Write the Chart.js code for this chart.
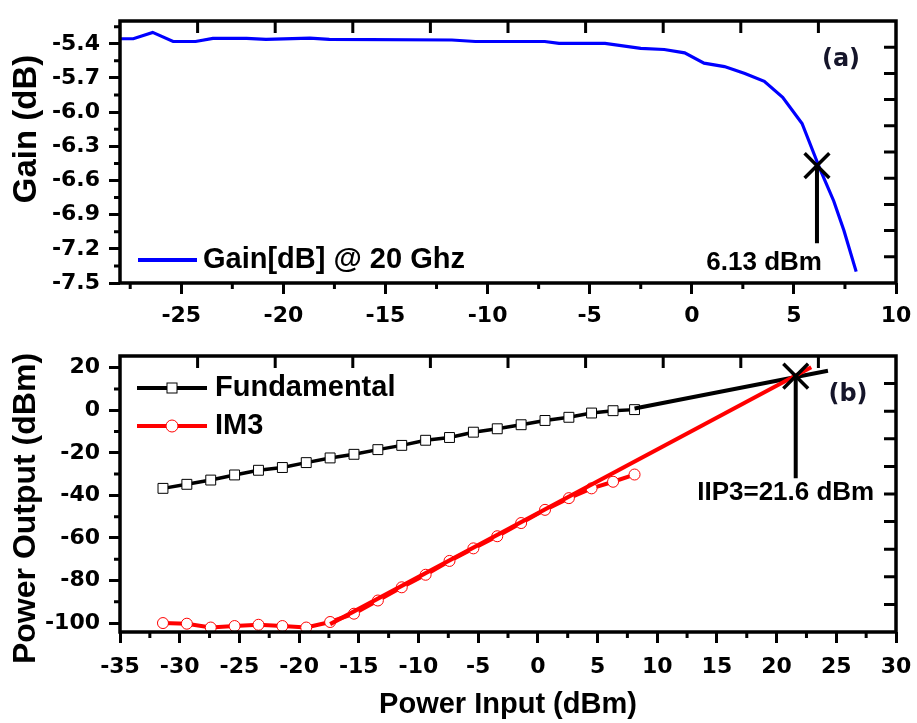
<!DOCTYPE html>
<html>
<head>
<meta charset="utf-8">
<script src="https://cdn.jsdelivr.net/npm/chart.js@4.4.1/dist/chart.umd.min.js"></script>
<style>
  html, body { margin: 0; padding: 0; background: #fff; }
  #wrap { position: relative; width: 917px; height: 723px; }
  #gain { position: absolute; left: 0; top: 0; }
  #pow { position: absolute; left: 0; top: 335px; }
</style>
</head>
<body>
<div id="wrap">
  <canvas id="gain" width="917" height="335"></canvas>
  <canvas id="pow" width="917" height="388"></canvas>
</div>
<script>
// ---------- Panel (a): gain at 20 GHz against input power ----------
const gainLabel = 'Gain[dB] @ 20 Ghz';
const gainInput = [-28, -27.35, -26.4, -25.4, -24.3, -23.45, -21.8, -20.85, -18.7, -17.75,
                   -11.75, -10.6, -7.2, -6.5, -4.25, -2.5, -1.35, -0.35, 0.6, 1.6,
                   2.6, 3.55, 4.45, 5.4, 6.3, 6.95, 7.45, 8.05];
const gainDb = [-5.356, -5.356, -5.30, -5.38, -5.38, -5.353, -5.353, -5.362, -5.351, -5.362,
                -5.367, -5.38, -5.38, -5.397, -5.397, -5.44, -5.45, -5.48, -5.57, -5.60,
                -5.66, -5.73, -5.87, -6.10, -6.51, -6.78, -7.04, -7.40];
const gainXTicks = [-25, -20, -15, -10, -5, 0, 5, 10];
const gainYTicks = [-7.5, -7.2, -6.9, -6.6, -6.3, -6.0, -5.7, -5.4];
const p1dBInput = 6.13;            // 1 dB compression input power
const p1dBGain = -6.47;
const p1dBLineEnd = -7.15;
const p1dBText = '6.13 dBm';

// ---------- Panel (b): fundamental and IM3 output power ----------
const powInput = [-31.4, -29.4, -27.4, -25.4, -23.4, -21.4, -19.4, -17.4, -15.4, -13.4,
                  -11.4, -9.4, -7.4, -5.4, -3.4, -1.4, 0.6, 2.6, 4.5, 6.3, 8.1];
const fundamentalOut = [-36.7, -34.8, -32.8, -30.4, -28.2, -26.9, -24.6, -22.4, -20.7, -18.5,
                        -16.5, -14.1, -12.8, -10.3, -8.7, -6.8, -4.8, -3.3, -1.3, -0.2, 0.3];
const im3Out = [-100.0, -100.3, -102.1, -101.4, -100.8, -101.4, -102.1, -99.5, -95.6, -89.4,
                -83.2, -77.3, -70.8, -64.9, -59.2, -53.0, -46.8, -41.3, -36.7, -33.6, -30.2];
const fundExtInput = [8.1, 24.3];   // extrapolated fundamental
const fundExtOut = [0.8, 18.6];
const im3FitInput = [-17.4, 22.9];  // extrapolated IM3 (3:1 slope)
const im3FitOut = [-100.5, 20.2];
const iip3Input = 21.6;
const iip3Out = 16.0;
const iip3LineEnd = -32.0;
const iip3Text = 'IIP3=21.6 dBm';
const powXTicks = [-35, -30, -25, -20, -15, -10, -5, 0, 5, 10, 15, 20, 25, 30];
const powYTicks = [-100, -80, -60, -40, -20, 0, 20];

// ---------- shared helpers ----------
const TICK_FONT = { family: "'DejaVu Sans'", size: 22, weight: 'bold' };
const BOLD = "'Liberation Sans', Arial, sans-serif";

const pts = (xs, ys) => xs.map((x, i) => ({ x, y: ys[i] }));

function minorValues(major, scale) {
  const step = major[1] - major[0];
  const out = [];
  for (let i = -1; i < major.length; i++) {
    const v = major[0] + (i + 0.5) * step;
    if (v > scale.min && v < scale.max) out.push(v);
  }
  return out;
}

function axis(min, max, ticks, fmt, isX, size, pad, title) {
  return {
    type: 'linear', min, max,
    position: isX ? 'bottom' : 'left',
    afterBuildTicks: s => { s.ticks = ticks.map(v => ({ value: v })); },
    afterFit: s => {
      if (isX) { s.height = size; s.paddingLeft = 0; s.paddingRight = 0; }
      else { s.width = size; s.paddingTop = 0; s.paddingBottom = 0; }
    },
    ticks: { font: TICK_FONT, color: '#000', padding: pad, maxRotation: 0, minRotation: 0,
             autoSkip: false, callback: v => fmt(v) },
    grid: { drawOnChartArea: false, drawTicks: true, tickLength: 11, tickWidth: 3, tickColor: '#000' },
    border: { display: false },
    title: title ? { display: true, text: title, color: '#000',
                     font: { family: BOLD, size: 29, weight: 'bold' },
                     padding: { top: 0, bottom: 1 } } : { display: false }
  };
}

// frame, mirrored inner ticks, minor ticks, legend and text annotations
function decor(o) {
  return {
    id: 'decor',
    afterDraw(chart) {
      const { ctx, chartArea: a, scales } = chart;
      const sx = scales.x, sy = scales.y;
      ctx.save();
      ctx.strokeStyle = '#000';
      ctx.lineCap = 'butt';
      ctx.lineWidth = 3;
      ctx.beginPath();
      for (let k = 1; k < 10; k++) {
        const x = a.left + (a.right - a.left) * k / 10;
        ctx.moveTo(x, a.top); ctx.lineTo(x, a.top + 12);
        const y = a.top + (a.bottom - a.top) * k / 10;
        ctx.moveTo(a.right, y); ctx.lineTo(a.right - 12, y);
      }
      minorValues(o.xTicks, sx).forEach(v => {
        const x = sx.getPixelForValue(v); ctx.moveTo(x, a.bottom); ctx.lineTo(x, a.bottom + 6);
      });
      minorValues(o.yTicks, sy).forEach(v => {
        const y = sy.getPixelForValue(v); ctx.moveTo(a.left, y); ctx.lineTo(a.left - 6, y);
      });
      ctx.stroke();
      ctx.lineWidth = 3.5;
      ctx.strokeRect(a.left, a.top, a.right - a.left, a.bottom - a.top);

      // legend rows
      ctx.textAlign = 'left';
      ctx.textBaseline = 'middle';
      ctx.font = `bold 29px ${BOLD}`;
      o.legend.forEach(row => {
        const ds = chart.data.datasets[row.index];
        const y = row.fromTop ? a.top + row.dy : a.bottom + row.dy;
        const x0 = a.left + row.x0, x1 = a.left + row.x1, xm = (x0 + x1) / 2;
        ctx.strokeStyle = ds.borderColor;
        ctx.lineWidth = 4;
        ctx.beginPath(); ctx.moveTo(x0, y); ctx.lineTo(x1, y); ctx.stroke();
        if (ds.pointStyle === 'rect') {
          ctx.fillStyle = '#fff'; ctx.lineWidth = 1; ctx.strokeStyle = ds.pointBorderColor;
          ctx.fillRect(xm - 5, y - 5, 10, 10); ctx.strokeRect(xm - 5, y - 5, 10, 10);
        } else if (ds.pointStyle === 'circle') {
          ctx.fillStyle = '#fff'; ctx.lineWidth = 1; ctx.strokeStyle = ds.pointBorderColor;
          ctx.beginPath(); ctx.arc(xm, y, 6, 0, Math.PI * 2); ctx.fill(); ctx.stroke();
        }
        ctx.fillStyle = '#000';
        ctx.fillText(ds.label, a.left + row.tx, y);
      });

      // panel tag
      ctx.font = "bold 24px 'DejaVu Sans'";
      ctx.fillStyle = '#15152a';
      ctx.textAlign = 'center';
      ctx.fillText(o.tag, a.right + o.tagDx, a.top + 39);

      // value note under the marker line
      ctx.font = `bold 26px ${BOLD}`;
      ctx.fillStyle = '#000';
      ctx.textBaseline = 'alphabetic';
      ctx.textAlign = o.note.align;
      ctx.fillText(o.note.text, sx.getPixelForValue(o.note.x) + o.note.dx,
                   sy.getPixelForValue(o.note.y) + o.note.dy);

      // rotated y title
      ctx.font = `bold ${o.yTitleSize}px ${BOLD}`;
      ctx.textAlign = 'center';
      ctx.textBaseline = 'middle';
      ctx.translate(o.yTitleX, (a.top + a.bottom) / 2 + o.yTitleDy);
      ctx.rotate(-Math.PI / 2);
      ctx.fillText(o.yTitle, 0, 0);
      ctx.restore();
    }
  };
}

const common = {
  responsive: false,
  animation: false,
  events: [],
  plugins: { legend: { display: false }, tooltip: { enabled: false } }
};

// ---------- chart (a) ----------
new Chart(document.getElementById('gain'), {
  type: 'scatter',
  data: {
    datasets: [
      { label: 'P1dB', data: [{ x: p1dBInput, y: p1dBGain }], pointStyle: 'crossRot',
        pointRadius: 17.5, pointBorderWidth: 3.5, pointBorderColor: '#000', borderColor: '#000' },
      { label: 'P1dB line', data: pts([p1dBInput, p1dBInput], [p1dBGain, p1dBLineEnd]),
        showLine: true, borderColor: '#000', borderWidth: 4, pointRadius: 0 },
      { label: gainLabel, data: pts(gainInput, gainDb), showLine: true,
        borderColor: '#0000ff', borderWidth: 3.2, pointRadius: 0, tension: 0 }
    ]
  },
  options: {
    ...common,
    layout: { padding: { left: 0, right: 18, top: 4, bottom: 0 } },
    scales: {
      x: axis(-28, 10, gainXTicks, v => String(v), true, 52, 9),
      y: axis(-7.5, -5.2, gainYTicks, v => v.toFixed(1), false, 120, 9)
    }
  },
  plugins: [decor({
    xTicks: gainXTicks, yTicks: gainYTicks,
    legend: [{ index: 2, fromTop: false, dy: -23, x0: 18, x1: 77, tx: 83 }],
    tag: '(a)', tagDx: -55,
    note: { text: p1dBText, x: p1dBInput, y: p1dBLineEnd, dx: 5, dy: 27, align: 'right' },
    yTitle: 'Gain (dB)', yTitleSize: 33, yTitleX: 27, yTitleDy: -23
  })]
});

// ---------- chart (b) ----------
new Chart(document.getElementById('pow'), {
  type: 'scatter',
  data: {
    datasets: [
      { label: 'IIP3', data: [{ x: iip3Input, y: iip3Out }], pointStyle: 'crossRot',
        pointRadius: 17.5, pointBorderWidth: 3.5, pointBorderColor: '#000', borderColor: '#000' },
      { label: 'IIP3 line', data: pts([iip3Input, iip3Input], [iip3Out, iip3LineEnd]),
        showLine: true, borderColor: '#000', borderWidth: 4, pointRadius: 0 },
      { label: 'IM3 fit', data: pts(im3FitInput, im3FitOut), showLine: true,
        borderColor: '#ff0000', borderWidth: 4, pointRadius: 0 },
      { label: 'Fundamental fit', data: pts(fundExtInput, fundExtOut), showLine: true,
        borderColor: '#000', borderWidth: 4, pointRadius: 0 },
      { label: 'Fundamental', data: pts(powInput, fundamentalOut), showLine: true,
        borderColor: '#000', borderWidth: 3.5, pointStyle: 'rect', pointRadius: 7,
        pointBorderWidth: 1, pointBorderColor: '#000', pointBackgroundColor: '#fff' },
      { label: 'IM3', data: pts(powInput, im3Out), showLine: true,
        borderColor: '#ff0000', borderWidth: 4, pointStyle: 'circle', pointRadius: 5.5,
        pointBorderWidth: 1, pointBorderColor: '#ff0000', pointBackgroundColor: '#fff' }
    ]
  },
  options: {
    ...common,
    layout: { padding: { left: 0, right: 18, top: 18, bottom: 0 } },
    scales: {
      x: axis(-35, 30, powXTicks, v => String(v), true, 91, 11, 'Power Input (dBm)'),
      y: axis(-104.2, 25.5, powYTicks, v => String(v), false, 120, 9)
    }
  },
  plugins: [decor({
    xTicks: powXTicks, yTicks: powYTicks,
    legend: [{ index: 4, fromTop: true, dy: 32, x0: 17, x1: 87, tx: 95 },
             { index: 5, fromTop: true, dy: 70, x0: 17, x1: 87, tx: 95 }],
    tag: '(b)', tagDx: -48,
    note: { text: iip3Text, x: iip3Input, y: iip3LineEnd, dx: -10, dy: 22, align: 'center' },
    yTitle: 'Power Output (dBm)', yTitleSize: 32, yTitleX: 26, yTitleDy: 14.5
  })]
});
</script>
</body>
</html>
